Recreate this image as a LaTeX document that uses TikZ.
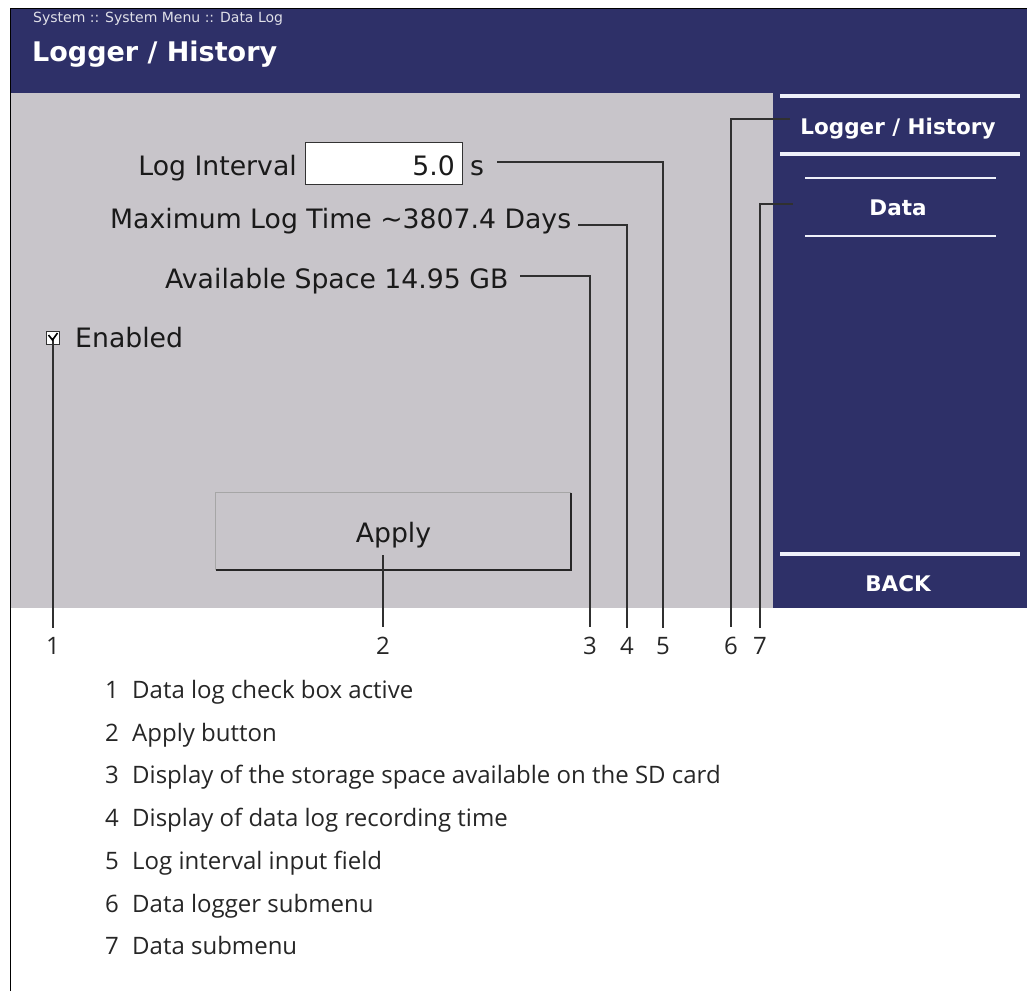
\documentclass[tikz,border=0pt]{standalone}
\usepackage{fontspec}
\setmainfont{Open Sans}
\newfontfamily\uifont{DejaVu Sans}
\definecolor{panelblue}{HTML}{2E3068}
\definecolor{panelgray}{HTML}{C8C5CA}
\definecolor{menuline}{HTML}{EEF0FA}
\definecolor{uitext}{HTML}{1A1A1A}
\definecolor{leader}{HTML}{303030}
\tikzset{
  uitxt/.style={font=\uifont\fontsize{26.7}{30}\selectfont, text=uitext, inner sep=0pt},
  menutxt/.style={font=\uifont\bfseries\fontsize{21.5}{24}\selectfont, text=white, inner sep=0pt, anchor=base},
  leadline/.style={draw=leader, line width=1.2pt, shorten >=9pt},
  callout/.style={font=\fontsize{24}{27}\selectfont, inner sep=0pt, anchor=base, text=black!85},
  legtext/.style={font=\fontsize{24}{27}\selectfont, inner sep=0pt, anchor=base west, text=black!85},
  thickline/.style={draw=menuline, line width=3.5pt},
  thinline/.style={draw=menuline, line width=1.6pt},
}
\begin{document}
\begin{tikzpicture}[x=1pt,y=-1pt]
\useasboundingbox (0,0) rectangle (1027,991);
\fill[white] (0,0) rectangle (1027,991);
% screen areas
\fill[panelblue] (11,8) rectangle (1027,93);
\fill[panelgray] (11,93) rectangle (773,608);
\fill[panelblue] (773,93) rectangle (1027,608);
\draw[line width=1.5pt] (10.5,991) -- (10.5,8.5) -- (1027,8.5);

% header
\node[anchor=base west, font=\uifont\fontsize{14}{16}\selectfont, text=white!85!panelblue, inner sep=0pt] (crumb) at (33,22) {System :: System Menu :: Data Log};
\node[anchor=base west, font=\uifont\bfseries\fontsize{27}{30}\selectfont, text=white, inner sep=0pt] (title) at (32,61) {Logger / History};

% right menu
\draw[thickline] (780,96) -- (1020,96);
\node[menutxt] (mlogger) at (898,134) {Logger / History};
\draw[thickline] (780,154) -- (1020,154);
\draw[thinline] (805,178) -- (996,178);
\node[menutxt] (mdata) at (898,215) {Data};
\draw[thinline] (805,236) -- (996,236);
\draw[thickline] (780,554) -- (1020,554);
\node[menutxt] (mback) at (898,591) {BACK};

% main fields
\node[uitxt, anchor=base east] (interval) at (297,175) {Log Interval};
\node[draw=black!80, line width=1.3pt, fill=white, minimum width=157pt, minimum height=42pt, anchor=north west, inner sep=0pt] (ibox) at (305,142) {};
\node[uitxt, anchor=base east] (ival) at (455,175) {5.0};
\node[uitxt, anchor=base west] (unit) at (470,175) {s};
\node[uitxt, anchor=base west] (maxtime) at (110,228) {Maximum Log Time \textasciitilde3807.4 Days};
\node[uitxt, anchor=base west] (space) at (165,288) {Available Space 14.95 GB};
\node[uitxt, anchor=base west] (enabled) at (75,347) {Enabled};

% apply button
\node[fill=panelgray, minimum width=355pt, minimum height=77pt, inner sep=0pt] (apply) at (393.5,531.5) {};
\draw[black!35, line width=1pt] (apply.south west) -- (apply.north west) -- (apply.north east);
\draw[black!85, line width=2pt] (apply.north east) -- (apply.south east) -- (apply.south west);
\node[uitxt, anchor=base] (applytxt) at (393.5,542) {Apply};

% callout numbers
\node[callout] (n1) at (53,654) {1};
\node[callout] (n2) at (383,654) {2};
\node[callout] (n3) at (590,654) {3};
\node[callout] (n4) at (627,654) {4};
\node[callout] (n5) at (663,654) {5};
\node[callout] (n6) at (731,654) {6};
\node[callout] (n7) at (760,654) {7};

% leader start points
\coordinate (a2) at (383,555);
\coordinate (a3) at (520,276);
\coordinate (a4) at (578,225);
\coordinate (a5) at (497,162);
\coordinate (a6) at (790,119);
\coordinate (a7) at (793,204);

% checkbox and leaders
\node[draw=black!80, fill=white, line width=1pt, minimum size=13pt, inner sep=0pt] (cbox) at (53,338) {};
\draw[leadline] (cbox.center) -- (n1.north);
\draw[line width=1.6pt] (48.5,335) -- (52.5,340) -- (57.5,333);
\draw[leadline] (a2) -- (n2.north);
\draw[leadline] (a3) -| (n3.north);
\draw[leadline] (a4) -| (n4.north);
\draw[leadline] (a5) -| (n5.north);
\draw[leadline] (a6) -| (n6.north);
\draw[leadline] (a7) -| (n7.north);

% legend
\node[callout] (k1) at (112,698.5) {1};
\node[legtext] (d1) at (132,698.5) {Data log check box active};
\node[callout] (k2) at (112,741.2) {2};
\node[legtext] (d2) at (132,741.2) {Apply button};
\node[callout] (k3) at (112,783.9) {3};
\node[legtext] (d3) at (132,783.9) {Display of the storage space available on the SD card};
\node[callout] (k4) at (112,826.6) {4};
\node[legtext] (d4) at (132,826.6) {Display of data log recording time};
\node[callout] (k5) at (112,869.3) {5};
\node[legtext] (d5) at (132,869.3) {Log interval input field};
\node[callout] (k6) at (112,912) {6};
\node[legtext] (d6) at (132,912) {Data logger submenu};
\node[callout] (k7) at (112,954.7) {7};
\node[legtext] (d7) at (132,954.7) {Data submenu};
\end{tikzpicture}
\end{document}
